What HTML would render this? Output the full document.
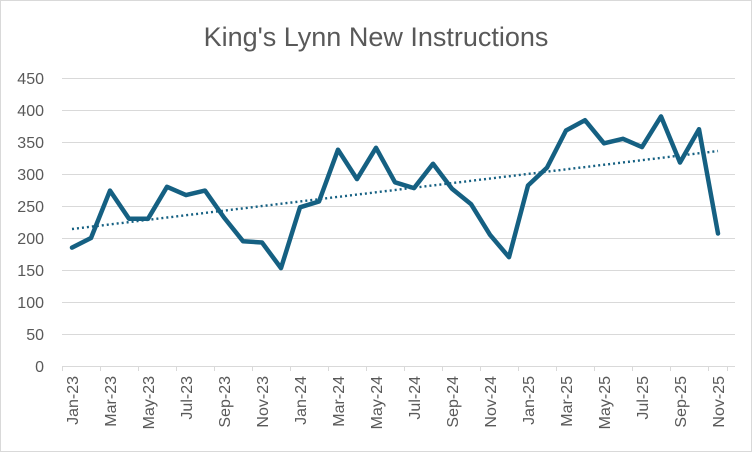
<!DOCTYPE html>
<html><head><meta charset="utf-8"><style>
html,body{margin:0;padding:0;background:#fff;}
svg{display:block;font-family:"Liberation Sans",sans-serif;}
</style></head><body>
<svg width="752" height="452" viewBox="0 0 752 452">
<rect x="0.5" y="0.5" width="751" height="451" fill="#fff" stroke="#d9d9d9"/>
<text x="376" y="46" text-anchor="middle" font-size="27" fill="#595959">King's Lynn New Instructions</text>
<g stroke="#d9d9d9" stroke-width="1">
<line x1="62" y1="78.5" x2="735" y2="78.5"/>
<line x1="62" y1="110.5" x2="735" y2="110.5"/>
<line x1="62" y1="142.5" x2="735" y2="142.5"/>
<line x1="62" y1="174.5" x2="735" y2="174.5"/>
<line x1="62" y1="206.5" x2="735" y2="206.5"/>
<line x1="62" y1="238.5" x2="735" y2="238.5"/>
<line x1="62" y1="270.5" x2="735" y2="270.5"/>
<line x1="62" y1="302.5" x2="735" y2="302.5"/>
<line x1="62" y1="334.5" x2="735" y2="334.5"/>
<line x1="62" y1="366.5" x2="735" y2="366.5"/>
</g>
<g stroke="#d9d9d9" stroke-width="1">
<line x1="62.5" y1="366" x2="62.5" y2="371"/><line x1="100.5" y1="366" x2="100.5" y2="371"/>
<line x1="138.5" y1="366" x2="138.5" y2="371"/><line x1="176.5" y1="366" x2="176.5" y2="371"/>
<line x1="214.5" y1="366" x2="214.5" y2="371"/><line x1="252.5" y1="366" x2="252.5" y2="371"/>
<line x1="290.5" y1="366" x2="290.5" y2="371"/><line x1="328.5" y1="366" x2="328.5" y2="371"/>
<line x1="366.5" y1="366" x2="366.5" y2="371"/><line x1="404.5" y1="366" x2="404.5" y2="371"/>
<line x1="442.5" y1="366" x2="442.5" y2="371"/><line x1="480.5" y1="366" x2="480.5" y2="371"/>
<line x1="518.5" y1="366" x2="518.5" y2="371"/><line x1="556.5" y1="366" x2="556.5" y2="371"/>
<line x1="594.5" y1="366" x2="594.5" y2="371"/><line x1="632.5" y1="366" x2="632.5" y2="371"/>
<line x1="670.5" y1="366" x2="670.5" y2="371"/><line x1="708.5" y1="366" x2="708.5" y2="371"/>
<line x1="727.5" y1="366" x2="727.5" y2="371"/>
</g>
<g font-size="16" fill="#595959" text-anchor="end">
<text x="44" y="84">450</text><text x="44" y="116">400</text><text x="44" y="148">350</text>
<text x="44" y="180">300</text><text x="44" y="212">250</text><text x="44" y="244">200</text>
<text x="44" y="276">150</text><text x="44" y="308">100</text><text x="44" y="340">50</text>
<text x="44" y="372">0</text>
</g>
<g font-size="16" fill="#595959" text-anchor="end">
<text transform="translate(78,376) rotate(-90)">Jan-23</text>
<text transform="translate(116,376) rotate(-90)">Mar-23</text>
<text transform="translate(154,376) rotate(-90)">May-23</text>
<text transform="translate(192,376) rotate(-90)">Jul-23</text>
<text transform="translate(230,376) rotate(-90)">Sep-23</text>
<text transform="translate(268,376) rotate(-90)">Nov-23</text>
<text transform="translate(306,376) rotate(-90)">Jan-24</text>
<text transform="translate(344,376) rotate(-90)">Mar-24</text>
<text transform="translate(382,376) rotate(-90)">May-24</text>
<text transform="translate(420,376) rotate(-90)">Jul-24</text>
<text transform="translate(458,376) rotate(-90)">Sep-24</text>
<text transform="translate(496,376) rotate(-90)">Nov-24</text>
<text transform="translate(534,376) rotate(-90)">Jan-25</text>
<text transform="translate(572,376) rotate(-90)">Mar-25</text>
<text transform="translate(610,376) rotate(-90)">May-25</text>
<text transform="translate(648,376) rotate(-90)">Jul-25</text>
<text transform="translate(686,376) rotate(-90)">Sep-25</text>
<text transform="translate(724,376) rotate(-90)">Nov-25</text>
</g>
<line x1="72" y1="229" x2="718" y2="151" stroke="#156082" stroke-width="2.4" stroke-dasharray="2,3"/>
<polyline fill="none" stroke="#156082" stroke-width="4.5" stroke-linejoin="round" stroke-linecap="round" points="
72,247.6 91,238 110,190.6 129,218.8 148,218.8 167,186.8 186,195.1 205,190.6 224,217.5 243,241.2 262,242.5 281,268.1 300,207.3 319,201.5 338,149.7 357,179.1 376,147.8 395,182.3 414,188.1 433,163.8 452,188.7 471,204.1 490,234.8 509,257.2 528,185.5 547,167.6 566,130.5 585,120.2 604,143.3 623,138.8 642,147.1 661,116.4 680,162.5 699,129.2 718,233.5"/>
</svg>
</body></html>
